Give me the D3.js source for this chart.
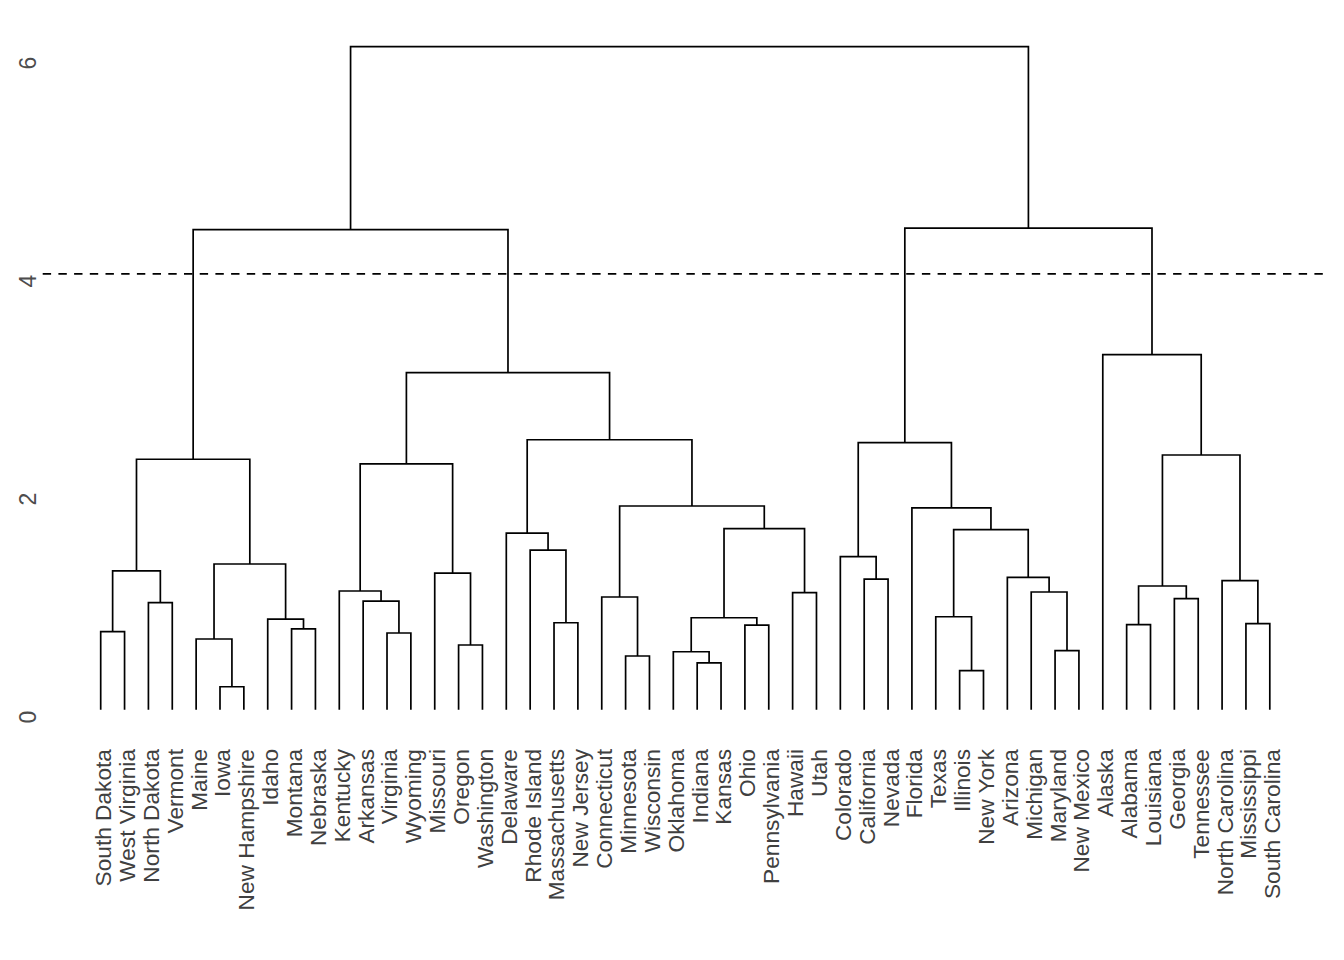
<!DOCTYPE html>
<html><head><meta charset="utf-8">
<script src="https://cdn.jsdelivr.net/npm/d3@7"></script>
<style>body{margin:0;background:#fff}</style>
</head><body><svg id="chart" width="1344" height="960"></svg>
<script>
const leaves = ["South Dakota","West Virginia","North Dakota","Vermont","Maine","Iowa","New Hampshire","Idaho","Montana","Nebraska","Kentucky","Arkansas","Virginia","Wyoming","Missouri","Oregon","Washington","Delaware","Rhode Island","Massachusetts","New Jersey","Connecticut","Minnesota","Wisconsin","Oklahoma","Indiana","Kansas","Ohio","Pennsylvania","Hawaii","Utah","Colorado","California","Nevada","Florida","Texas","Illinois","New York","Arizona","Michigan","Maryland","New Mexico","Alaska","Alabama","Louisiana","Georgia","Tennessee","North Carolina","Mississippi","South Carolina"];

// merges: [left, right, height]; strings are leaves, numbers refer to earlier merges
const merges = [
 ["South Dakota","West Virginia",0.780],
 ["North Dakota","Vermont",1.046],
 [0,1,1.337],
 ["Iowa","New Hampshire",0.275],
 ["Maine",3,0.713],
 ["Montana","Nebraska",0.805],
 ["Idaho",5,0.896],
 [4,6,1.401],
 [2,7,2.362],
 ["Virginia","Wyoming",0.768],
 ["Arkansas",9,1.061],
 ["Kentucky",10,1.153],
 ["Oregon","Washington",0.658],
 ["Missouri",12,1.318],
 [11,13,2.319],
 ["Massachusetts","New Jersey",0.862],
 ["Rhode Island",15,1.529],
 ["Delaware",16,1.685],
 ["Minnesota","Wisconsin",0.557],
 ["Connecticut",18,1.098],
 ["Indiana","Kansas",0.493],
 ["Oklahoma",20,0.596],
 ["Ohio","Pennsylvania",0.841],
 [21,22,0.908],
 ["Hawaii","Utah",1.138],
 [23,24,1.725],
 [19,25,1.933],
 [17,26,2.541],
 [14,27,3.156],
 [8,28,4.468],
 ["California","Nevada",1.263],
 ["Colorado",30,1.468],
 ["Illinois","New York",0.422],
 ["Texas",32,0.917],
 ["Maryland","New Mexico",0.606],
 ["Michigan",34,1.144],
 ["Arizona",35,1.279],
 [33,36,1.716],
 ["Florida",37,1.915],
 [31,38,2.514],
 ["Alabama","Louisiana",0.844],
 ["Georgia","Tennessee",1.083],
 [40,41,1.199],
 ["Mississippi","South Carolina",0.853],
 ["North Carolina",43,1.248],
 [42,44,2.401],
 ["Alaska",45,3.321],
 [39,46,4.483],
 [29,47,6.147]
];
const yTicks = [0,2,4,6];
const cutHeight = 4.062;

const svg = d3.select("#chart");
const x = d3.scalePoint().domain(leaves).range([100.7, 1269.8]);
const y = d3.scaleLinear().domain([0,6]).range([716.7, 62.7]);
const leafGap = 7;
const font = "'Liberation Sans', Arial, sans-serif";

const mx = [], mh = [];
function pos(c){
  if (typeof c === "string") return {x: x(c), y: y(0) - leafGap};
  return {x: mx[c], y: y(mh[c])};
}
const g = svg.append("g");
merges.forEach((m, i) => {
  const a = pos(m[0]), b = pos(m[1]);
  const ym = y(m[2]);
  mx[i] = (a.x + b.x) / 2; mh[i] = m[2];
  g.append("path")
    .attr("d", `M${a.x},${a.y}V${ym}H${b.x}V${b.y}`)
    .attr("fill","none").attr("stroke","#000").attr("stroke-width",1.7)
    .attr("stroke-linejoin","miter").attr("stroke-linecap","butt");
});

svg.append("line")
  .attr("x1",42.7).attr("x2",1328)
  .attr("y1",y(cutHeight)).attr("y2",y(cutHeight))
  .attr("stroke","#000").attr("stroke-width",1.7)
  .attr("stroke-dasharray","8.4 7.3");

const ax = svg.append("g").attr("transform","translate(27.3,0)")
  .call(d3.axisLeft(y).tickValues(yTicks).tickSize(0).tickFormat(d3.format("d")));
ax.select(".domain").remove();
ax.selectAll("text")
  .attr("x",0).attr("dy","0.36em")
  .attr("transform","rotate(-90)")
  .attr("text-anchor","middle")
  .attr("fill","#4D4D4D")
  .style("font-family",font).style("font-size","23px");

svg.append("g").selectAll("text").data(leaves).join("text")
  .attr("transform", d => `translate(${x(d)},749) rotate(-90)`)
  .attr("text-anchor","end").attr("dy","0.46em")
  .attr("fill","#404040")
  .style("font-family",font).style("font-size","22.7px")
  .text(d => d);
</script></body></html>
